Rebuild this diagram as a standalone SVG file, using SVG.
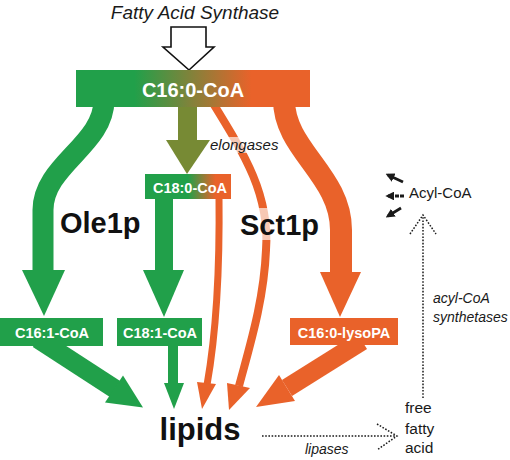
<svg xmlns="http://www.w3.org/2000/svg" width="510" height="460" viewBox="0 0 510 460">
<style>
.t{font-family:"Liberation Sans",Arial,sans-serif;fill:#1a1a1a}
.it{font-style:italic}
.bw{font-family:"Liberation Sans",Arial,sans-serif;font-weight:bold;fill:#ffffff;text-anchor:middle}
.big{font-family:"Liberation Sans",Arial,sans-serif;font-weight:bold;fill:#111111}
.g{fill:#21a04a}
.o{fill:#e9622a}
.gs{fill:none;stroke:#21a04a}
.os{fill:none;stroke:#e9622a}
.dot{fill:none;stroke:#1a1a1a;stroke-width:1.5;stroke-dasharray:1.6 1.6}
.sa{stroke:#1a1a1a;stroke-width:2.8}
.halo{fill:#ffffff;opacity:0.65}
</style>
<defs>
<linearGradient id="barG" x1="76" y1="0" x2="310" y2="0" gradientUnits="userSpaceOnUse">
<stop offset="0.25" stop-color="#21a04a"/>
<stop offset="0.75" stop-color="#e9622a"/>
</linearGradient>
<linearGradient id="c18G" x1="145" y1="0" x2="231" y2="0" gradientUnits="userSpaceOnUse">
<stop offset="0.5" stop-color="#21a04a"/>
<stop offset="0.82" stop-color="#e9622a"/>
</linearGradient>
<marker id="ah" viewBox="0 0 10 10" refX="7" refY="5" markerWidth="3.2" markerHeight="3.2" orient="auto" markerUnits="strokeWidth">
<path d="M0,0 L10,5 L0,10 z" fill="#1a1a1a"/>
</marker>
</defs>

<g id="connectors">
<!-- Fatty acid synthase hollow arrow -->
<polygon points="171,27 206,27 206,47 214,47 189,70 163,47 171,47" fill="#ffffff" stroke="#111111" stroke-width="1.6" stroke-linejoin="miter"/>
<!-- Ole1p: C16:0 -> C16:1 -->
<path class="gs" stroke-width="21" d="M104,100 C104,145 43,165 43,210 L43,272"/>
<polygon class="g" points="22,270 65,270 44,316"/>
<!-- elongases: C16:0 -> C18:0 -->
<rect x="178" y="100" width="19" height="41" fill="#778a34"/>
<polygon points="166,140 210,140 187,174" fill="#778a34"/>
<!-- C18:0 -> C18:1 -->
<rect class="g" x="155" y="195" width="18" height="76"/>
<polygon class="g" points="143,270 184,270 164,317"/>
<!-- Sct1p: C16:0 -> C16:0-lysoPA -->
<path class="os" stroke-width="22" d="M284,100 C284,150 341,175 341,230 L341,274"/>
<polygon class="o" points="320,272 361,272 340,317"/>
<!-- C18:0 -> lipids (thin orange) -->
<path class="os" stroke-width="7" d="M219,195 C220,280 215,340 207,385"/>
<polygon class="o" points="197,382 216,384 202,409"/>
<!-- C16:0 -> lipids (thin orange) -->
<path class="os" stroke-width="8" d="M211,100 C245,155 270,195 266,250 C264,300 250,345 239,386"/>
<polygon class="o" points="227,383 250,388 229,410"/>
<!-- C16:1 -> lipids -->
<line x1="38" y1="339" x2="115" y2="389" stroke="#21a04a" stroke-width="19"/>
<polygon class="g" points="123,375.5 105,402.5 143,407.5"/>
<!-- C18:1 -> lipids -->
<rect class="g" x="168" y="342" width="10" height="42"/>
<polygon class="g" points="164,383 184,383 174,409"/>
<!-- lysoPA -> lipids -->
<line x1="362" y1="341" x2="287" y2="388" stroke="#e9622a" stroke-width="19"/>
<polygon class="o" points="279,375 295,401 256,407"/>
<!-- lipases: lipids -> free fatty acid -->
<line class="dot" x1="262" y1="436" x2="396" y2="436"/>
<polyline class="dot" points="377,424 397,436 377,450"/>
<!-- acyl-CoA synthetases: free fatty acid -> Acyl-CoA -->
<line class="dot" x1="423" y1="398" x2="423" y2="217"/>
<polyline class="dot" points="410,234 423,215 436,234"/>
<!-- Acyl-CoA outgoing arrows -->
<line class="sa" x1="403" y1="182" x2="388" y2="175" marker-end="url(#ah)"/>
<line class="sa" x1="404" y1="196" x2="388" y2="196" stroke-dasharray="4 1" marker-end="url(#ah)"/>
<line class="sa" x1="401" y1="208" x2="388" y2="216" marker-end="url(#ah)"/>
</g>

<g id="labels">
<rect class="halo" x="211" y="137" width="68" height="16"/>
<text class="t it" x="210" y="150" font-size="15">elongases</text>
<rect class="halo" x="238" y="208" width="82" height="32"/>
<text class="big" x="240" y="235" font-size="29">Sct1p</text>
<text class="big" x="60" y="233" font-size="29">Ole1p</text>
<text class="t it" x="433" y="303" font-size="14">acyl-CoA</text>
<text class="t it" x="433" y="322" font-size="14">synthetases</text>
<text class="t it" x="305" y="454" font-size="14">lipases</text>
</g>

<g id="fas">
<text class="t it" x="195" y="19" font-size="19" text-anchor="middle">Fatty Acid Synthase</text>
</g>
<g id="c160">
<rect x="76" y="70" width="234" height="37" fill="url(#barG)"/>
<text class="bw" x="193" y="97" font-size="20">C16:0-CoA</text>
</g>
<g id="c180">
<rect x="145" y="174" width="86" height="25" fill="url(#c18G)"/>
<text class="bw" x="190" y="193" font-size="14.5">C18:0-CoA</text>
</g>
<g id="c161">
<rect class="g" x="0" y="318" width="103" height="28"/>
<text class="bw" x="52" y="338" font-size="14.5">C16:1-CoA</text>
</g>
<g id="c181">
<rect class="g" x="117" y="318" width="85" height="28"/>
<text class="bw" x="160" y="338" font-size="14.5">C18:1-CoA</text>
</g>
<g id="lysopa">
<rect class="o" x="290" y="318" width="108" height="27"/>
<text class="bw" x="344" y="338" font-size="14.5">C16:0-lysoPA</text>
</g>
<g id="lipids">
<text class="big" x="200" y="440" font-size="31" text-anchor="middle">lipids</text>
</g>
<g id="acylcoa">
<text class="t" x="409" y="198" font-size="15">Acyl-CoA</text>
</g>
<g id="ffa">
<text class="t" x="405" y="413" font-size="15.5">free</text>
<text class="t" x="405" y="434" font-size="15.5">fatty</text>
<text class="t" x="405" y="453" font-size="15.5">acid</text>
</g>
</svg>
